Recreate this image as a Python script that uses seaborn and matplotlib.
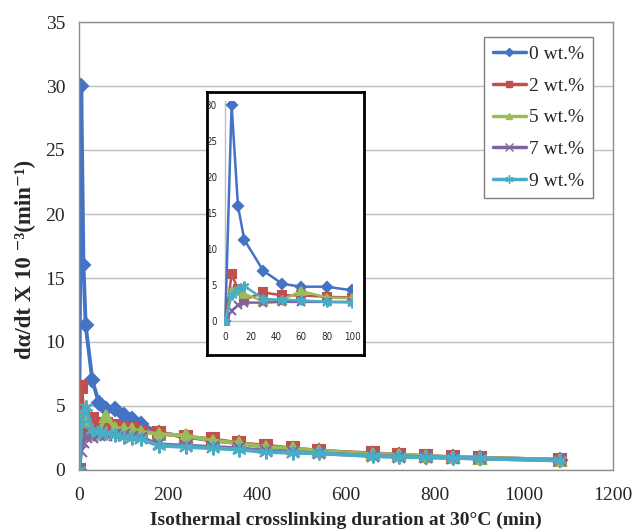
import numpy as np
import pandas as pd
import matplotlib
matplotlib.use("Agg")
import matplotlib.pyplot as plt
from matplotlib.lines import Line2D
import seaborn as sns

# isothermal crosslinking times (min)
times = [0, 5, 10, 15, 30, 45, 60, 80, 100, 120, 140, 180, 240, 300, 360,
         420, 480, 540, 660, 720, 780, 840, 900, 1080]

rate_0 = [0, 30.0, 16.0, 11.3, 7.0, 5.2, 4.8, 4.8, 4.3, 4.0, 3.6, 2.9, 2.6, 2.3,
          2.1, 1.8, 1.65, 1.5, 1.25, 1.15, 1.05, 1.0, 0.95, 0.8]
rate_2 = [0, 6.5, 4.5, 3.0, 4.0, 3.6, 3.6, 3.4, 3.3, 3.2, 3.0, 2.9, 2.6, 2.4,
          2.1, 1.9, 1.7, 1.5, 1.3, 1.2, 1.1, 1.0, 0.95, 0.8]
rate_5 = [0, 4.2, 4.2, 3.8, 2.8, 3.0, 4.2, 3.3, 3.2, 3.2, 3.0, 2.8, 2.7, 2.3,
          2.1, 1.8, 1.7, 1.5, 1.25, 1.2, 1.1, 1.0, 0.95, 0.8]
rate_7 = [0, 1.5, 2.2, 2.6, 2.6, 2.7, 2.7, 2.7, 2.7, 2.6, 2.5, 2.0, 1.9, 1.8,
          1.7, 1.5, 1.4, 1.3, 1.1, 1.05, 1.0, 0.95, 0.9, 0.75]
rate_9 = [0, 3.6, 4.5, 4.9, 3.1, 3.0, 2.9, 2.7, 2.6, 2.5, 2.4, 1.9, 1.8, 1.7,
          1.6, 1.4, 1.35, 1.3, 1.1, 1.0, 1.0, 0.95, 0.9, 0.75]

labels = ["0 wt.%", "2 wt.%", "5 wt.%", "7 wt.%", "9 wt.%"]
colors = ["#4472C4", "#C0504D", "#9BBB59", "#8064A2", "#4BACC6"]
markers = ["D", "s", "^", "x", (6, 2, 0)]
msizes = [7, 8, 8, 9, 10]

rows = []
for lab, vals in zip(labels, [rate_0, rate_2, rate_5, rate_7, rate_9]):
    for t, v in zip(times, vals):
        rows.append({"time": t, "rate": v, "loading": lab})
df = pd.DataFrame(rows)

sns.set_style("white")
plt.rcParams["font.family"] = ["Liberation Serif", "DejaVu Serif"]

fig = plt.figure(figsize=(6.34, 5.31), dpi=100)
W, H = 634, 531


def box(x0, y0, x1, y1):
    return [x0 / W, 1 - y1 / H, (x1 - x0) / W, (y1 - y0) / H]


def draw(ax, data, lw, scale):
    for lab, col, mk, ms in zip(labels, colors, markers, msizes):
        sub = data[data["loading"] == lab]
        sns.lineplot(data=sub, x="time", y="rate", ax=ax, color=col, lw=lw,
                     marker=mk, markersize=ms * scale, markeredgecolor=col,
                     markeredgewidth=1.5, sort=False, legend=False)


ax = fig.add_axes(box(79, 22, 613, 470))
draw(ax, df, 2.8, 1.0)
ax.set_xlim(0, 1200)
ax.set_ylim(0, 35)
ax.set_xticks(range(0, 1201, 200))
ax.set_yticks(range(0, 36, 5))
ax.yaxis.grid(True, color="#BFBFBF", lw=1)
for s in ax.spines.values():
    s.set_color("#8C8C8C")
    s.set_linewidth(1)
ax.tick_params(labelsize=14, length=0)
ax.tick_params(axis="x", pad=12)
ax.tick_params(axis="y", pad=10)
ax.set_xlabel("Isothermal crosslinking duration at 30°C (min)",
              fontsize=14, fontweight="bold", labelpad=6)
ax.set_ylabel("dα/dt X 10 ⁻³(min⁻¹)", fontsize=16.5, fontweight="bold")
ax.yaxis.set_label_coords(-0.08, 0.469)
ax.set_axisbelow(True)

handles = [Line2D([], [], color=c, lw=2.5, marker=m, markersize=s * 0.6,
                  markeredgecolor=c, markeredgewidth=1.0)
           for c, m, s in zip(colors, markers, msizes)]
leg = ax.legend(handles=handles, labels=labels, loc="upper left",
                bbox_to_anchor=(0.758, 0.967), fontsize=14, frameon=True,
                fancybox=False, edgecolor="#7F7F7F", framealpha=1,
                handlelength=1.7, labelspacing=0.72, borderpad=0.45,
                handletextpad=0.2, borderaxespad=0)
leg.get_frame().set_linewidth(1)

# inset frame
frame = fig.add_axes(box(207, 92, 364, 355))
frame.set_xticks([])
frame.set_yticks([])
for s in frame.spines.values():
    s.set_color("black")
    s.set_linewidth(2)
frame.set_facecolor("white")

ins = fig.add_axes(box(224, 101, 352, 325))
draw(ins, df[df["time"] <= 100], 1.8, 0.7)
ins.set_xlim(-1, 100)
ins.set_ylim(-0.5, 30.5)
ins.set_xticks(range(0, 101, 20))
ins.set_yticks(range(0, 31, 5))
ins.set_xlabel("")
ins.set_ylabel("")
ins.set_facecolor("none")
for s in ins.spines.values():
    s.set_visible(False)
ins.axhline(0, color="#BFBFBF", lw=1, zorder=0)
ins.axvline(0, color="#BFBFBF", lw=1, zorder=0)
ins.tick_params(labelsize=7, length=0, pad=5)
for t in ins.get_xticklabels() + ins.get_yticklabels():
    t.set_family(["DejaVu Sans"])
    t.set_fontstretch("condensed")

fig.savefig("out.png", dpi=100)
